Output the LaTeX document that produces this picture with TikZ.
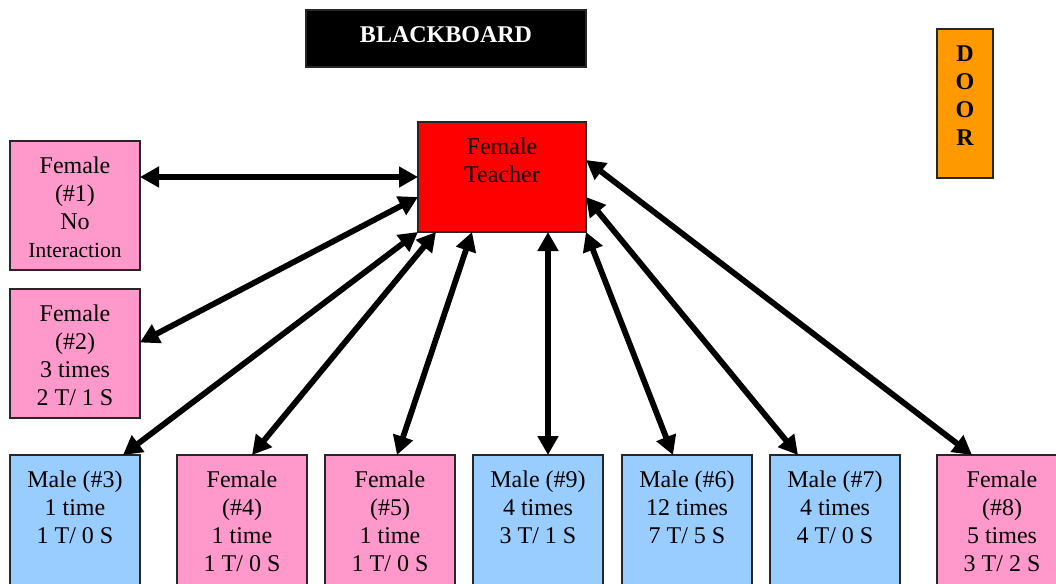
\documentclass[tikz,border=0pt]{standalone}
\usepackage{fontspec}
\setmainfont{Liberation Serif}
\usetikzlibrary{arrows.meta}
\definecolor{girl}{HTML}{FF99CC}
\definecolor{boy}{HTML}{99CCFF}
\definecolor{doororange}{HTML}{FF9900}
\begin{document}
\begin{tikzpicture}[x=1pt,y=-1pt,
  box/.style={draw=black!85, line width=1.2pt, rectangle, inner sep=0pt, outer sep=0pt, anchor=north west},
  girlbox/.style={box, fill=girl, minimum width=130pt},
  boybox/.style={box, fill=boy, minimum width=130pt},
  lbl/.style={anchor=north, inner sep=0pt, align=center, yshift=-12pt,
    font=\fontsize{24}{28.3}\selectfont},
  link/.style={line width=5.8pt, {Triangle[length=19pt,width=20pt]}-{Triangle[length=19pt,width=20pt]}}]
\useasboundingbox (0,0) rectangle (1056,583);
\clip (0,0) rectangle (1056,583);

% blackboard and door
\node[box, fill=black, minimum width=280pt, minimum height=57pt] (board) at (306,10) {};
\node[anchor=base, text=white, font=\fontsize{24}{28.3}\selectfont\bfseries] (boardtxt) at (446,43) {BLACKBOARD};
\node[box, fill=doororange, minimum width=56pt, minimum height=149pt] (door) at (937,29) {};
\node[lbl, font=\fontsize{24}{28.3}\selectfont\bfseries] (doortxt) at (door.north) {\strut D\\O\\O\\R};

% teacher
\node[box, fill=red, minimum width=168pt, minimum height=110pt] (t) at (418,122) {};
\node[lbl] (ttxt) at (t.north) {\strut Female\\Teacher};

% students on the left
\node[girlbox, minimum height=129pt] (f1) at (10,141) {};
\node[lbl] (f1txt) at (f1.north) {\strut Female\\(\#1)\\No\\{\fontsize{21.5}{28.3}\selectfont Interaction}};
\node[girlbox, minimum height=129pt] (f2) at (10,289) {};
\node[lbl] (f2txt) at (f2.north) {\strut Female\\(\#2)\\3 times\\2 T/ 1 S};

% students in the front row
\node[boybox, minimum height=160pt] (m3) at (10,455) {};
\node[lbl] (m3txt) at (m3.north) {\strut Male (\#3)\\1 time\\1 T/ 0 S};
\node[girlbox, minimum height=160pt] (f4) at (177,455) {};
\node[lbl] (f4txt) at (f4.north) {\strut Female\\(\#4)\\1 time\\1 T/ 0 S};
\node[girlbox, minimum height=160pt] (f5) at (325,455) {};
\node[lbl] (f5txt) at (f5.north) {\strut Female\\(\#5)\\1 time\\1 T/ 0 S};
\node[boybox, minimum height=160pt] (m9) at (473,455) {};
\node[lbl] (m9txt) at (m9.north) {\strut Male (\#9)\\4 times\\3 T/ 1 S};
\node[boybox, minimum height=160pt] (m6) at (622,455) {};
\node[lbl] (m6txt) at (m6.north) {\strut Male (\#6)\\12 times\\7 T/ 5 S};
\node[boybox, minimum height=160pt] (m7) at (770,455) {};
\node[lbl] (m7txt) at (m7.north) {\strut Male (\#7)\\4 times\\4 T/ 0 S};
\node[girlbox, minimum height=160pt] (f8) at (937,455) {};
\node[lbl] (f8txt) at (f8.north) {\strut Female\\(\#8)\\5 times\\3 T/ 2 S};

% interactions
\draw[link] (t.west -| f1.east) -- (t.west);
\draw[link] ([yshift=11pt]f2.east) -- ([yshift=-20pt]t.west);
\draw[link] ([xshift=113pt]m3.north west) -- (t.south west);
\draw[link] ([xshift=10pt]f4.north) -- ([xshift=18pt]t.south west);
\draw[link] ([xshift=7pt]f5.north) -- ([xshift=54pt]t.south west);
\draw[link] ([xshift=10pt]m9.north) -- ([xshift=130pt]t.south west);
\draw[link] ([xshift=-14pt]m6.north) -- (t.south east);
\draw[link] ([xshift=-37pt]m7.north) -- ([yshift=-20pt]t.east);
\draw[link] ([xshift=-30pt]f8.north) -- ([yshift=17pt]t.east);
\end{tikzpicture}
\end{document}
